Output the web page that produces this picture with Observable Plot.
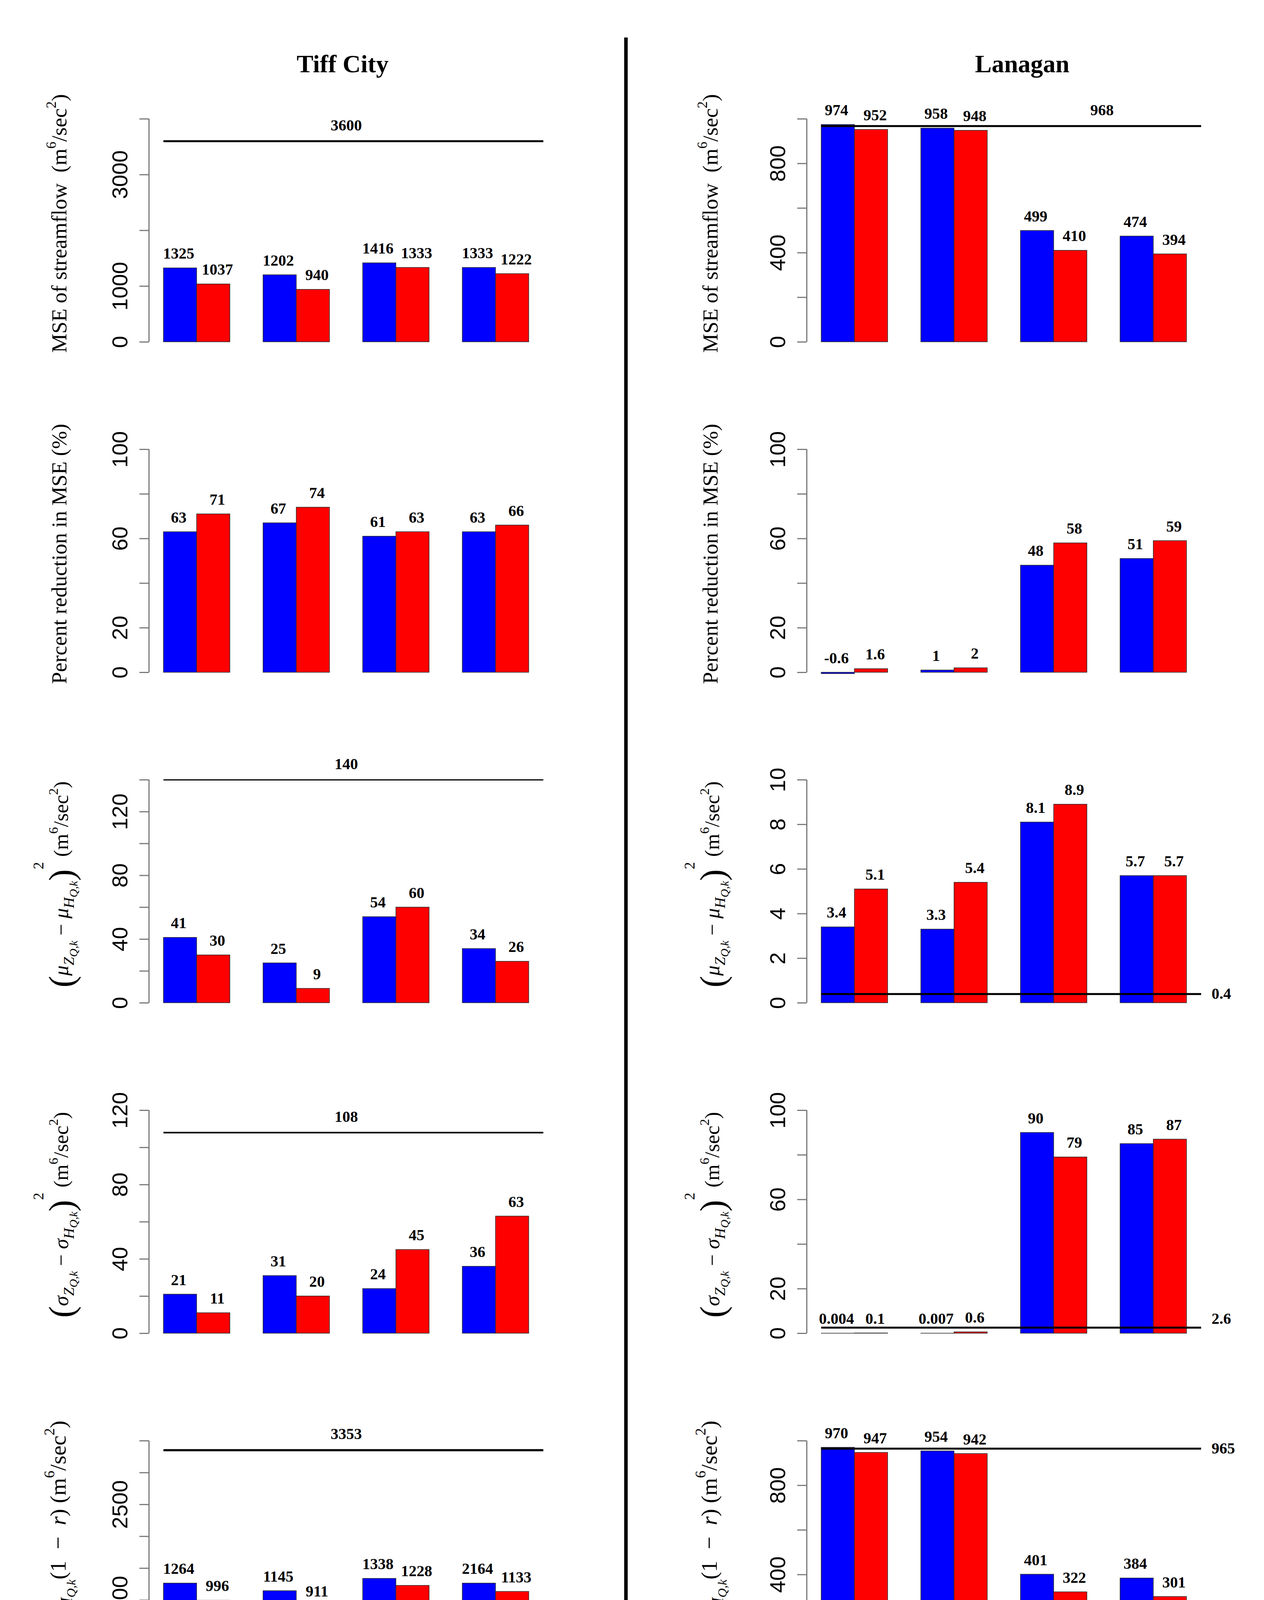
<!DOCTYPE html>
<html>
<head>
<meta charset="utf-8">
<script src="https://cdn.jsdelivr.net/npm/d3@7"></script>
<script src="https://cdn.jsdelivr.net/npm/@observablehq/plot@0.6"></script>
<style>
  html, body { margin: 0; padding: 0; background: #fff; }
  #fig { position: relative; width: 3236px; height: 5005px; background: #fff; overflow: hidden; font-family: "Liberation Serif", "Times New Roman", serif; color: #000; }
  .abs { position: absolute; white-space: nowrap; line-height: 1; }
  .ytitle { font-size: 55px; transform: translate(-50%, -50%) rotate(-90deg); }
  .ytitle sup { font-size: 65%; vertical-align: 0.75em; line-height: 0; }
  .ytitle sub { font-size: 72%; vertical-align: -0.38em; line-height: 0; }
  .ytitle sub sub { font-size: 78%; vertical-align: -0.3em; }
  .ytitle .bp { font-size: 170%; vertical-align: -0.15em; }
  .ytitle .hs { font-size: 70%; vertical-align: 1.7em; }
  .site { font-size: 64px; font-weight: bold; transform: translate(-50%, -50%); }
  .leg { font-size: 46px; transform: translateY(-50%); }
</style>
</head>
<body>
<div id="fig"></div>
<script>
// ---------------- DATA ----------------
const sites = ["Tiff City", "Lanagan"];
const series = ["VAR (V)", "MVAR (M)"];
const seriesShort = ["V", "M"];
const seriesColors = ["#0000FF", "#FF0000"];
const legendColors = ["#0033CC", "#FF0000"];
const constraintLabels = ["Strongly-", "Weakly-", "Strongly-", "Weakly-constrained"];
const constraintSuffix = "DA";
const daTypes = ["Outlet flow DA", "Outlet and Interior flow DA"];
const openLoopLabel = "Open Loop";

// Row 1: MSE of streamflow
const tiffMseV = [1325, 1202, 1416, 1333];
const tiffMseM = [1037, 940, 1333, 1222];
const tiffMseOL = 3600;
const tiffMseTicks = [0, 1000, 2000, 3000, 4000];
const tiffMseTickLabels = [0, 1000, 3000];
const lanMseV = [974, 958, 499, 474];
const lanMseM = [952, 948, 410, 394];
const lanMseOL = 968;
const lanMseTicks = [0, 200, 400, 600, 800, 1000];
const lanMseTickLabels = [0, 400, 800];

// Row 2: Percent reduction in MSE
const tiffRedV = [63, 67, 61, 63];
const tiffRedM = [71, 74, 63, 66];
const lanRedV = [-0.6, 1, 48, 51];
const lanRedM = [1.6, 2, 58, 59];
const redTicks = [0, 20, 40, 60, 80, 100];
const redTickLabels = [0, 20, 60, 100];

// Row 3: squared mean difference
const tiffMeanV = [41, 25, 54, 34];
const tiffMeanM = [30, 9, 60, 26];
const tiffMeanOL = 140;
const tiffMeanTicks = [0, 20, 40, 60, 80, 100, 120, 140];
const tiffMeanTickLabels = [0, 40, 80, 120];
const lanMeanV = [3.4, 3.3, 8.1, 5.7];
const lanMeanM = [5.1, 5.4, 8.9, 5.7];
const lanMeanOL = 0.4;
const lanMeanTicks = [0, 2, 4, 6, 8, 10];
const lanMeanTickLabels = [0, 2, 4, 6, 8, 10];

// Row 4: squared standard deviation difference
const tiffSdV = [21, 31, 24, 36];
const tiffSdM = [11, 20, 45, 63];
const tiffSdOL = 108;
const tiffSdTicks = [0, 20, 40, 60, 80, 100, 120];
const tiffSdTickLabels = [0, 40, 80, 120];
const lanSdV = [0.004, 0.007, 90, 85];
const lanSdM = [0.1, 0.6, 79, 87];
const lanSdOL = 2.6;
const lanSdTicks = [0, 20, 40, 60, 80, 100];
const lanSdTickLabels = [0, 20, 60, 100];

// Row 5: correlation term
const tiffCorV = [1264, 1145, 1338, 1264];
const tiffCorVText = ["1264", "1145", "1338", "2164"];
const tiffCorM = [996, 911, 1228, 1133];
const tiffCorOL = 3353;
const tiffCorTicks = [0, 500, 1000, 1500, 2000, 2500, 3000, 3500];
const tiffCorTickLabels = [0, 1000, 2500];
const lanCorV = [970, 954, 401, 384];
const lanCorM = [947, 942, 322, 301];
const lanCorOL = 965;
const lanCorTicks = [0, 200, 400, 600, 800, 1000];
const lanCorTickLabels = [0, 400, 800];

const yTitles = [
  'MSE of streamflow&nbsp; (m<sup>6</sup>/sec<sup>2</sup>)',
  'Percent reduction in MSE (%)',
  '<span class="bp">(</span><i>μ</i><sub><i>Z</i><sub><i>Q,k</i></sub></sub> − <i>μ</i><sub><i>H</i><sub><i>Q,k</i></sub></sub><span class="bp">)</span><sup class="hs">2</sup> (m<sup>6</sup>/sec<sup>2</sup>)',
  '<span class="bp">(</span><i>σ</i><sub><i>Z</i><sub><i>Q,k</i></sub></sub> − <i>σ</i><sub><i>H</i><sub><i>Q,k</i></sub></sub><span class="bp">)</span><sup class="hs">2</sup> (m<sup>6</sup>/sec<sup>2</sup>)',
  '2<i>σ</i><sub><i>Z</i><sub><i>Q,k</i></sub></sub><i>σ</i><sub><i>H</i><sub><i>Q,k</i></sub></sub>(1&ensp;−&ensp;<i>r</i>)&nbsp;(m<sup>6</sup>/sec<sup>2</sup>)'
];
const yTitleSizes = [55, 55, 53, 53, 58];

// ---------------- PANEL CONFIG ----------------
const rows = [
  [
    {V: tiffMseV, M: tiffMseM, OL: tiffMseOL, ticks: tiffMseTicks, tickLabels: tiffMseTickLabels, ol: {x: 6.5, mode: "above"}, olWidth: 5},
    {V: lanMseV, M: lanMseM, OL: lanMseOL, ticks: lanMseTicks, tickLabels: lanMseTickLabels, ol: {x: 9.45, mode: "above"}, olWidth: 5}
  ],
  [
    {V: tiffRedV, M: tiffRedM, ticks: redTicks, tickLabels: redTickLabels},
    {V: lanRedV, M: lanRedM, ticks: redTicks, tickLabels: redTickLabels}
  ],
  [
    {V: tiffMeanV, M: tiffMeanM, OL: tiffMeanOL, ticks: tiffMeanTicks, tickLabels: tiffMeanTickLabels, ol: {x: 6.5, mode: "above"}, olWidth: 3},
    {V: lanMeanV, M: lanMeanM, OL: lanMeanOL, ticks: lanMeanTicks, tickLabels: lanMeanTickLabels, ol: {x: 12.75, mode: "right", dy: 0}, olWidth: 5}
  ],
  [
    {V: tiffSdV, M: tiffSdM, OL: tiffSdOL, ticks: tiffSdTicks, tickLabels: tiffSdTickLabels, ol: {x: 6.5, mode: "above"}, olWidth: 4},
    {V: lanSdV, M: lanSdM, OL: lanSdOL, ticks: lanSdTicks, tickLabels: lanSdTickLabels, ol: {x: 12.75, mode: "right", dy: -22}, olWidth: 5}
  ],
  [
    {V: tiffCorV, VText: tiffCorVText, M: tiffCorM, OL: tiffCorOL, ticks: tiffCorTicks, tickLabels: tiffCorTickLabels, ol: {x: 6.5, mode: "above"}, olWidth: 5.5},
    {V: lanCorV, M: lanCorM, OL: lanCorOL, ticks: lanCorTicks, tickLabels: lanCorTickLabels, ol: {x: 12.75, mode: "right", dy: 0}, olWidth: 5}
  ]
];

// ---------------- LAYOUT ----------------
const XDOM = [0.56, 12.44];
const PLOT_W = 1010;
const PLOT_H = 571;
const ROW_TOP = [304, 1150, 1996, 2842, 3688];
const MT = 170, MB = 40;
const columns = [
  {left: 0, width: 1600, ml: 381, titleX: 877, ytitleX: 151},
  {left: 1600, width: 1636, ml: 465, titleX: 2617, ytitleX: 1818}
];
const fig = document.getElementById("fig");

function place(el, left, top) {
  el.style.position = "absolute";
  el.style.left = left + "px";
  el.style.top = top + "px";
  fig.appendChild(el);
}
function addDiv(cls, html, left, top, extra) {
  const d = document.createElement("div");
  d.className = "abs " + cls;
  d.innerHTML = html;
  d.style.left = left + "px";
  d.style.top = top + "px";
  if (extra) Object.assign(d.style, extra);
  fig.appendChild(d);
  return d;
}

const barX1 = d => 1 + 3 * d.g + d.s;
const barX2 = d => 2 + 3 * d.g + d.s;
const barXc = d => 1.5 + 3 * d.g + d.s;

function makePanel(cfg, col) {
  const data = [];
  [cfg.V, cfg.M].forEach((arr, s) => arr.forEach((v, g) => {
    const txt = s === 0 && cfg.VText ? cfg.VText[g] : String(v);
    data.push({g, s, value: v, label: txt});
  }));
  const top = cfg.ticks[cfg.ticks.length - 1];
  const labSet = new Set(cfg.tickLabels);
  const labelFont = {fontFamily: "Liberation Serif", fontWeight: "bold", fontSize: 40, fill: "black"};
  const marks = [
    Plot.rect(data, {x1: barX1, x2: barX2, y1: () => 0, y2: "value", fill: d => seriesColors[d.s], stroke: "#2a2a2a", strokeWidth: 1.5}),
    Plot.text(data.filter(d => d.s === 0), {x: barXc, y: d => Math.max(0, d.value), text: "label", lineAnchor: "bottom", dy: -24, dx: -4, ...labelFont}),
    Plot.text(data.filter(d => d.s === 1), {x: barXc, y: d => Math.max(0, d.value), text: "label", lineAnchor: "bottom", dy: -24, dx: 10, ...labelFont}),
    Plot.ruleX([XDOM[0]], {y1: () => 0, y2: () => top, stroke: "#7a7a7a", strokeWidth: 3}),
    Plot.axisY({ticks: cfg.ticks, tickFormat: d => labSet.has(d) ? String(d) : "", tickSize: 24, tickPadding: 32,
      tickRotate: -90, fontSize: 56, fontFamily: "Liberation Sans", stroke: "#7a7a7a", strokeWidth: 3, fill: "black", label: null})
  ];
  if (cfg.OL !== undefined) {
    marks.push(Plot.ruleY([cfg.OL], {x1: () => 1, x2: () => XDOM[1], stroke: "black", strokeWidth: cfg.olWidth}));
    if (cfg.ol.mode === "above") {
      marks.push(Plot.text([cfg.OL], {x: () => cfg.ol.x, y: d => d, text: d => String(d), lineAnchor: "bottom", dy: -28, ...labelFont}));
    } else {
      marks.push(Plot.text([cfg.OL], {x: () => cfg.ol.x, y: d => d, text: d => String(d), lineAnchor: "middle", textAnchor: "start", dy: cfg.ol.dy, ...labelFont}));
    }
  }
  return Plot.plot({
    width: col.width, height: MT + PLOT_H + MB,
    marginLeft: col.ml, marginRight: col.width - col.ml - PLOT_W, marginTop: MT, marginBottom: MB,
    x: {domain: XDOM, axis: null},
    y: {domain: [0, top]},
    style: {background: "transparent", overflow: "visible", fontFamily: "Liberation Sans", fontSize: "56px"},
    marks
  });
}

rows.forEach((row, r) => {
  row.forEach((cfg, c) => {
    const col = columns[c];
    const svg = makePanel(cfg, col);
    place(svg, col.left, ROW_TOP[r] - MT);
    addDiv("ytitle", yTitles[r], col.ytitleX, ROW_TOP[r] + PLOT_H / 2 - 18, {fontSize: yTitleSizes[r] + "px"});
  });
});

columns.forEach((col, c) => addDiv("site", sites[c], col.titleX, 164));
addDiv("", "", 1598, 96, {width: "9px", height: "4657px", background: "#000"});

// ---------------- BRACES / GROUP ANNOTATION ----------------
const BR_TOP = 4330, BR_H = 420;
function bracePoints(id, x1, x2, top, hy, bottom) {
  const xc = (x1 + x2) / 2;
  const pts = [];
  const left = [[x1, top], [x1, hy - 10], [x1 + 0.04, hy - 3], [x1 + 0.12, hy], [xc - 0.1, hy], [xc - 0.03, hy + 5], [xc, hy + 16], [xc, bottom]];
  const right = [[x2, top], [x2, hy - 10], [x2 - 0.04, hy - 3], [x2 - 0.12, hy], [xc + 0.1, hy], [xc + 0.03, hy + 5], [xc, hy + 16]];
  left.forEach(([x, y]) => pts.push({id: id + "L", x, y}));
  right.forEach(([x, y]) => pts.push({id: id + "R", x, y}));
  return pts;
}
columns.forEach((col, c) => {
  const vm = [];
  for (let g = 0; g < 4; g++) for (let s = 0; s < 2; s++) vm.push({g, s});
  const small = [];
  constraintLabels.forEach((lab, g) => small.push(...bracePoints("s" + g, 1 + 3 * g, 3.12 + 3 * g, 4401, 4442, 4484)));
  const big = [];
  daTypes.forEach((lab, k) => big.push(...bracePoints("b" + k, 0.93 + 6 * k, 5.95 + 6 * k, 4560, 4603, 4646)));
  const svg = Plot.plot({
    width: col.width, height: BR_H,
    marginLeft: col.ml, marginRight: col.width - col.ml - PLOT_W, marginTop: 0, marginBottom: 0,
    x: {domain: XDOM, axis: null},
    y: {domain: [BR_TOP, BR_TOP + BR_H], range: [0, BR_H], axis: null},
    style: {background: "transparent", overflow: "visible"},
    marks: [
      Plot.text(vm, {x: d => 2 + 3 * d.g + (d.s ? 0.42 : -0.35), y: () => 4380, text: d => seriesShort[d.s], fontFamily: "Liberation Serif", fontSize: 52, fill: "black"}),
      Plot.line(small, {x: "x", y: "y", z: "id", stroke: "#333", strokeWidth: 3.5}),
      Plot.text(constraintLabels, {x: (d, i) => 2 + 3 * i, y: () => 4527, text: d => d, fontFamily: "Liberation Serif", fontSize: 34, fill: "black"}),
      Plot.text([constraintSuffix], {x: () => 13, y: () => 4527, text: d => d, fontFamily: "Liberation Serif", fontSize: 34, fill: "black"}),
      Plot.line(big, {x: "x", y: "y", z: "id", stroke: "#333", strokeWidth: 3.5}),
      Plot.text(daTypes, {x: (d, i) => 3.5 + 6 * i, y: () => 4696, text: d => d, fontFamily: "Liberation Serif", fontSize: 46, fill: "black"})
    ]
  });
  place(svg, col.left, BR_TOP);
});

// ---------------- LEGEND ----------------
const LEG_Y = 4897;
addDiv("", "", 555, LEG_Y - 6, {width: "185px", height: "12px", background: "#000"});
addDiv("leg", openLoopLabel, 800, LEG_Y);
const legRects = [1447, 2197];
const legTexts = [1725, 2486];
series.forEach((name, s) => {
  addDiv("", "", legRects[s], LEG_Y - 21, {width: "195px", height: "42px", background: legendColors[s]});
  addDiv("leg", name, legTexts[s], LEG_Y);
});
</script>
</body>
</html>
